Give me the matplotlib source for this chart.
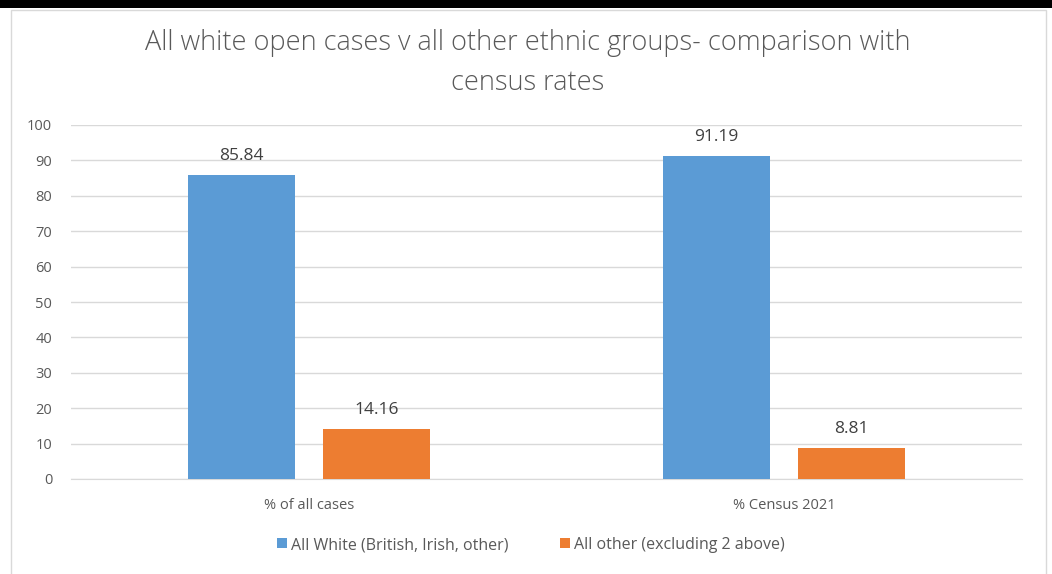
import matplotlib.pyplot as plt
from matplotlib.patches import Rectangle
import numpy as np

categories = ['% of all cases', '% Census 2021']
white = [85.84, 91.19]
other = [14.16, 8.81]
series_names = ['All White (British, Irish, other)', 'All other (excluding 2 above)']
yticks = [0, 10, 20, 30, 40, 50, 60, 70, 80, 90, 100]

plt.rcParams['font.family'] = ['Open Sans', 'DejaVu Sans']

fig = plt.figure(figsize=(10.52, 5.74), dpi=100)
# black strip at the top and light chart frame
fig.patches.append(Rectangle((0, 1 - 8 / 574), 1, 8 / 574, transform=fig.transFigure,
                             facecolor='black', edgecolor='none', zorder=-2))
fig.patches.append(Rectangle((11 / 1052, -0.01), 1035 / 1052, 1 - 10 / 574 + 0.01,
                             transform=fig.transFigure, facecolor='none',
                             edgecolor='#D9D9D9', linewidth=1, zorder=-2))

ax = fig.add_axes([71 / 1052, 95 / 574, 951 / 1052, 354 / 574])
ax.set_facecolor('none')
x = np.arange(len(categories))
w = 0.225
off = 0.142
b1 = ax.bar(x - off, white, w, color='#5B9BD5', label=series_names[0], zorder=3)
b2 = ax.bar(x + off, other, w, color='#ED7D31', label=series_names[1], zorder=3)

for bars, vals in ((b1, white), (b2, other)):
    for r, v in zip(bars, vals):
        ax.annotate(f'{v:.2f}', (r.get_x() + r.get_width() / 2, v), xytext=(0, 8),
                    textcoords='offset points', ha='center', va='bottom',
                    fontsize=12.5, color='#404040')

ax.set_xlim(-0.5, 1.5)
ax.set_ylim(0, 100)
ax.set_yticks(yticks)
ax.set_xticks(x)
ax.set_xticklabels(categories)
ax.yaxis.grid(True, color='#D9D9D9', linewidth=1, zorder=0)
ax.tick_params(axis='both', length=0, colors='#595959', labelsize=10.5)
ax.tick_params(axis='y', pad=13.5)
ax.tick_params(axis='x', pad=14)
for s in ['top', 'right', 'left']:
    ax.spines[s].set_visible(False)
ax.spines['bottom'].set_color('#D9D9D9')

fig.text(528 / 1052, 1 - 63 / 574,
         'All white open cases v all other ethnic groups- comparison with\ncensus rates',
         ha='center', va='center', fontsize=19.5, color='#595959', linespacing=1.55,
         fontweight='light')

fig.legend(handles=[b1, b2], loc='center', bbox_to_anchor=(531 / 1052, 1 - 545 / 574),
           ncol=2, frameon=False, fontsize=11.5, labelcolor='#595959',
           handlelength=0.6, handleheight=0.6, handletextpad=0.3, columnspacing=3.2)

fig.savefig('out.png', dpi=100)
